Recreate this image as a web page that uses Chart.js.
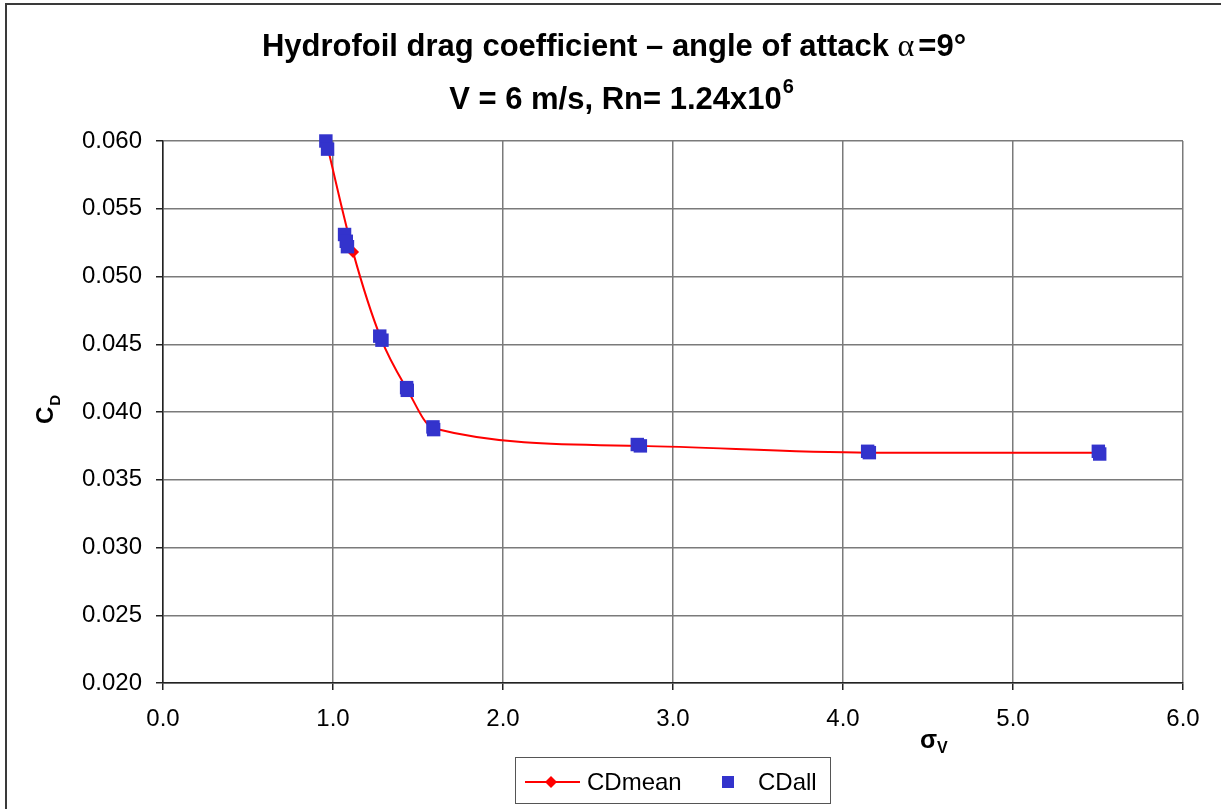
<!DOCTYPE html>
<html>
<head>
<meta charset="utf-8">
<script src="https://cdn.jsdelivr.net/npm/chart.js@4.4.1/dist/chart.umd.min.js"></script>
<style>
  html, body { margin: 0; padding: 0; background: #fff; }
  #wrap { width: 1221px; height: 809px; position: relative; }
  canvas { display: block; }
</style>
</head>
<body>
<div id="wrap"><canvas id="c" width="1221" height="809"></canvas></div>
<script>
// ---- Data ----
const titleLine1 = ["Hydrofoil drag coefficient \u2013 angle of attack ", "\u03B1", "=9\u00B0"];
const titleLine2 = ["V = 6 m/s, Rn= 1.24x10", "6"];
const xAxisTitle = ["\u03C3", "V"];
const yAxisTitle = ["C", "D"];

const meanLabel = "CDmean";
const meanX = [0.965, 1.118, 1.283, 1.435, 1.590, 2.800, 4.150, 5.505];
const meanY = [0.0597, 0.0518, 0.0454, 0.0417, 0.0388, 0.0375, 0.0370, 0.0370];

const allLabel = "CDall";
const allX = [0.958, 0.968, 1.068, 1.078, 1.085, 1.275, 1.288, 1.433, 1.437, 1.588, 1.592, 2.790, 2.808, 4.145, 4.155, 5.502, 5.510];
const allY = [0.0600, 0.0594, 0.0531, 0.0526, 0.0522, 0.0456, 0.0453, 0.0418, 0.0416, 0.0389, 0.0387, 0.0376, 0.0375, 0.0371, 0.0370, 0.0371, 0.0369];

const xTicks = [0, 1, 2, 3, 4, 5, 6];
const yTicks = [0.020, 0.025, 0.030, 0.035, 0.040, 0.045, 0.050, 0.055, 0.060];

const RED = '#ff0000';
const BLUE = '#3333cc';
const FONT = '"Liberation Sans", Arial, sans-serif';

function pts(xs, ys) { return xs.map((x, i) => ({ x: x, y: ys[i] })); }

const decor = {
  id: 'decor',
  afterDraw(chart) {
    const ctx = chart.ctx;
    ctx.save();
    // outer frame
    ctx.strokeStyle = '#3a3a3a';
    ctx.lineWidth = 2;
    ctx.strokeRect(6, 4, 1240, 830);

    ctx.fillStyle = '#000';
    ctx.textBaseline = 'alphabetic';
    ctx.textAlign = 'left';

    // Title line 1
    const tf = 'bold 31px ' + FONT;
    const af = '32px "Liberation Serif", serif';
    ctx.font = tf; const w1 = ctx.measureText(titleLine1[0]).width;
    ctx.font = af; const w2 = ctx.measureText(titleLine1[1]).width;
    ctx.font = tf; const w3 = ctx.measureText(titleLine1[2]).width;
    let x = 614 - (w1 + w2 + w3 + 4) / 2;
    const b1 = 56;
    ctx.font = tf; ctx.fillText(titleLine1[0], x, b1); x += w1;
    ctx.font = af; ctx.fillText(titleLine1[1], x, b1); x += w2 + 4;
    ctx.font = tf; ctx.fillText(titleLine1[2], x, b1);

    // Title line 2 with superscript
    ctx.font = tf; const v1 = ctx.measureText(titleLine2[0]).width;
    const sf = 'bold 20px ' + FONT;
    ctx.font = sf; const v2 = ctx.measureText(titleLine2[1]).width;
    x = 621 - (v1 + v2) / 2;
    const b2 = 109;
    ctx.font = tf; ctx.fillText(titleLine2[0], x, b2);
    ctx.font = sf; ctx.fillText(titleLine2[1], x + v1 + 1, b2 - 16);

    // X axis title sigma_V
    ctx.font = 'bold 25px ' + FONT;
    ctx.fillText(xAxisTitle[0], 920, 748);
    const sw = ctx.measureText(xAxisTitle[0]).width;
    ctx.font = 'bold 16px ' + FONT;
    ctx.fillText(xAxisTitle[1], 920 + sw, 753);

    // Y axis title C_D (rotated)
    ctx.save();
    ctx.translate(53, 424);
    ctx.rotate(-Math.PI / 2);
    ctx.font = 'bold 24px ' + FONT;
    ctx.fillText(yAxisTitle[0], 0, 0);
    const cw = ctx.measureText(yAxisTitle[0]).width;
    ctx.font = 'bold 15px ' + FONT;
    ctx.fillText(yAxisTitle[1], cw + 1, 7);
    ctx.restore();

    // Legend
    const ds = chart.data.datasets;
    const mean = ds.find(d => d.label === meanLabel);
    const all = ds.find(d => d.label === allLabel);
    ctx.strokeStyle = '#555';
    ctx.lineWidth = 1;
    ctx.strokeRect(515.5, 757.5, 315, 46);
    const ly = 782;
    ctx.strokeStyle = mean.borderColor;
    ctx.lineWidth = 2;
    ctx.beginPath(); ctx.moveTo(525, ly); ctx.lineTo(580, ly); ctx.stroke();
    ctx.fillStyle = mean.backgroundColor;
    ctx.beginPath();
    ctx.moveTo(551, ly - 6); ctx.lineTo(557, ly); ctx.lineTo(551, ly + 6); ctx.lineTo(545, ly);
    ctx.closePath(); ctx.fill();
    ctx.fillStyle = all.backgroundColor;
    ctx.fillRect(722, ly - 6, 12, 12);
    ctx.fillStyle = '#000';
    ctx.font = '24px ' + FONT;
    ctx.textBaseline = 'middle';
    ctx.fillText(mean.label, 587, ly + 1);
    ctx.fillText(all.label, 758, ly + 1);
    ctx.restore();
  }
};

new Chart(document.getElementById('c'), {
  type: 'scatter',
  data: {
    datasets: [
      {
        label: allLabel,
        data: pts(allX, allY),
        showLine: false,
        pointStyle: 'rect',
        pointRadius: 9.5,
        pointHoverRadius: 9.5,
        backgroundColor: BLUE,
        borderColor: BLUE,
        borderWidth: 0,
        order: 0,
        clip: false
      },
      {
        label: meanLabel,
        data: pts(meanX, meanY),
        showLine: true,
        cubicInterpolationMode: 'monotone',
        borderColor: RED,
        backgroundColor: RED,
        borderWidth: 2,
        pointStyle: 'rectRot',
        pointRadius: 6,
        pointHoverRadius: 6,
        pointBorderWidth: 0,
        order: 1,
        clip: false
      }
    ]
  },
  options: {
    responsive: false,
    animation: false,
    events: [],
    layout: { padding: { top: 141, right: 38, left: 0, bottom: 0 } },
    plugins: {
      legend: { display: false },
      title: { display: false },
      tooltip: { enabled: false }
    },
    scales: {
      x: {
        type: 'linear',
        min: xTicks[0],
        max: xTicks[xTicks.length - 1],
        afterBuildTicks(s) { s.ticks = xTicks.map(v => ({ value: v })); },
        afterFit(s) { s.height = 126; },
        ticks: {
          callback: v => Number(v).toFixed(1),
          color: '#000',
          font: { family: FONT, size: 24 },
          padding: 15,
          maxRotation: 0
        },
        grid: { color: '#7a7a7a', lineWidth: 1.5, tickLength: 7, tickColor: '#222', tickWidth: 1.5 },
        border: { color: '#222', width: 1.5 }
      },
      y: {
        type: 'linear',
        min: yTicks[0],
        max: yTicks[yTicks.length - 1],
        afterBuildTicks(s) { s.ticks = yTicks.map(v => ({ value: v })); },
        afterFit(s) { s.width = 163; },
        ticks: {
          callback: v => Number(v).toFixed(3),
          color: '#000',
          font: { family: FONT, size: 24 },
          padding: 14
        },
        grid: { color: '#7a7a7a', lineWidth: 1.5, tickLength: 7, tickColor: '#222', tickWidth: 1.5 },
        border: { color: '#222', width: 1.5 }
      }
    }
  },
  plugins: [decor]
});
</script>
</body>
</html>
